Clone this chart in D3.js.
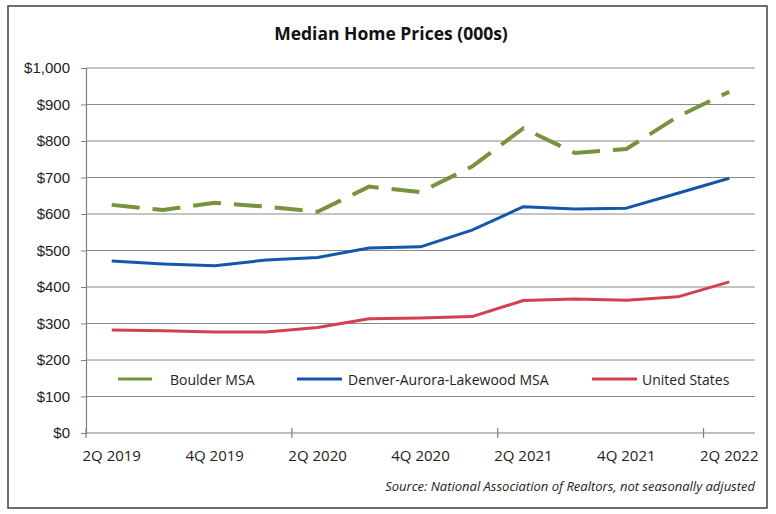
<!DOCTYPE html>
<html><head><meta charset="utf-8">
<script src="https://cdn.jsdelivr.net/npm/d3@7"></script>
<style>
html,body{margin:0;padding:0;background:#fff;}
svg{display:block;font-family:"Open Sans",Lato,sans-serif;}
</style></head>
<body>
<svg id="chart" width="776" height="514"></svg>
<script>
const quarters = ["2Q 2019","3Q 2019","4Q 2019","1Q 2020","2Q 2020","3Q 2020","4Q 2020","1Q 2021","2Q 2021","3Q 2021","4Q 2021","1Q 2022","2Q 2022"];
const boulder = [625, 611, 631, 620, 606, 675, 660, 730, 835, 767, 778, 867, 935];
const denver  = [471, 463, 458, 474, 481, 507, 510, 556, 620, 614, 616, 657, 698];
const usa     = [282, 280, 277, 277, 289, 313, 315, 319, 363, 367, 364, 373, 414];
const yTicks = [0,100,200,300,400,500,600,700,800,900,1000];
const labelQuarters = ["2Q 2019","4Q 2019","2Q 2020","4Q 2020","2Q 2021","4Q 2021","2Q 2022"];
const tickBoundaries = [0,4,8,12];
const seriesNames = ["Boulder MSA","Denver-Aurora-Lakewood MSA","United States"];
const titleText = "Median Home Prices (000s)";
const sourceText = "Source: National Association of Realtors, not seasonally adjusted";

const svg = d3.select("#chart");
// outer frame
svg.append("rect").attr("x",8).attr("y",6).attr("width",759).attr("height",502)
  .attr("fill","#fff").attr("stroke","#404040").attr("stroke-width",1.5);

const L = 86, R = 755, T = 68, B = 433;
const x = d3.scaleBand().domain(quarters).range([L,R]).padding(0);
const y = d3.scaleLinear().domain([0,1000]).range([B,T]);
const xc = q => x(q) + x.bandwidth()/2;

// gridlines
svg.append("g").selectAll("line").data(yTicks.filter(d=>d>0)).join("line")
  .attr("x1",L).attr("x2",R).attr("y1",d=>y(d)).attr("y2",d=>y(d))
  .attr("stroke","#8a8a8a").attr("stroke-width",1);

// y axis
const yAxis = svg.append("g").attr("transform",`translate(${L},0)`)
  .call(d3.axisLeft(y).tickValues(yTicks).tickSize(5).tickPadding(11)
    .tickFormat(d => "$" + d3.format(",")(d)));
yAxis.select(".domain").attr("stroke","#808080").attr("stroke-width",1.2);
yAxis.selectAll(".tick line").attr("stroke","#808080");
yAxis.selectAll("text").attr("font-size",15).attr("fill","#222");

// x axis line
svg.append("line").attr("x1",L).attr("x2",R).attr("y1",B).attr("y2",B)
  .attr("stroke","#808080").attr("stroke-width",1.2);
// tick marks at band boundaries every 4 quarters
svg.append("g").selectAll("line").data(tickBoundaries).join("line")
  .attr("x1",d=>x(quarters[d])).attr("x2",d=>x(quarters[d]))
  .attr("y1",B-5).attr("y2",B+5).attr("stroke","#808080").attr("stroke-width",1.2);
// x labels
svg.append("g").selectAll("text").data(labelQuarters).join("text")
  .attr("x",d=>xc(d)).attr("y",B+28).attr("text-anchor","middle")
  .attr("font-size",15).attr("fill","#222").text(d=>d);

// lines
const line = d3.line().x((d,i)=>xc(quarters[i])).y(d=>y(d)).curve(d3.curveLinear);
svg.append("path").datum(usa).attr("d",line).attr("fill","none")
  .attr("stroke","#d4404f").attr("stroke-width",3).attr("stroke-linejoin","round");
svg.append("path").datum(denver).attr("d",line).attr("fill","none")
  .attr("stroke","#1257a8").attr("stroke-width",3).attr("stroke-linejoin","round");
svg.append("path").datum(boulder).attr("d",line).attr("fill","none")
  .attr("stroke","#77933c").attr("stroke-width",4).attr("stroke-dasharray","28,13");

// title
svg.append("text").attr("x",391).attr("y",40).attr("text-anchor","middle")
  .attr("font-size",17.5).attr("font-weight","bold").attr("fill","#111").text(titleText);

// legend
const legend = [
  {name:seriesNames[0], color:"#6c9a3a", x1:118, x2:152, tx:170},
  {name:seriesNames[1], color:"#1257a8", x1:297, x2:342, tx:348},
  {name:seriesNames[2], color:"#d4404f", x1:592, x2:637, tx:642}
];
const lg = svg.append("g");
legend.forEach(l=>{
  lg.append("line").attr("x1",l.x1).attr("x2",l.x2).attr("y1",379).attr("y2",379)
    .attr("stroke",l.color).attr("stroke-width",3);
  lg.append("text").attr("x",l.tx).attr("y",384.5).attr("font-size",14).attr("fill","#222").text(l.name);
});

// source
svg.append("text").attr("x",755).attr("y",491).attr("text-anchor","end")
  .attr("font-size",13).attr("font-style","italic").attr("fill","#222").text(sourceText);
</script>
</body></html>
